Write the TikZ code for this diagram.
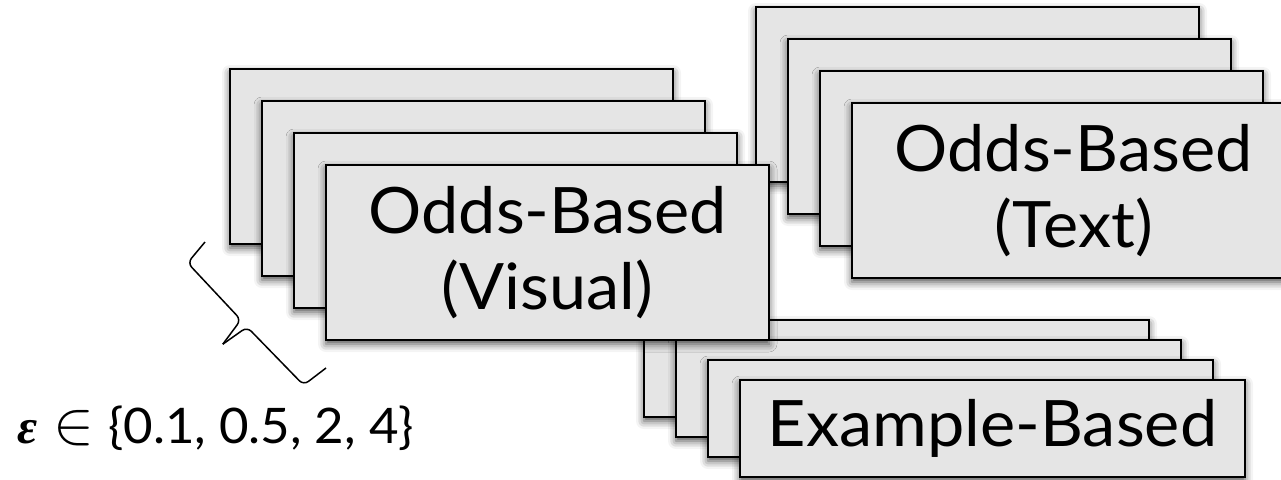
\RequirePackage{fix-cm}
\documentclass[tikz,border=0pt]{standalone}
\usepackage{fontspec}
\setmainfont{Lato}[FakeStretch=1.04]
\newfontfamily\epsfont{Liberation Serif}
\usetikzlibrary{shadows.blur}
\definecolor{boxfill}{HTML}{E5E5E5}
\tikzset{
  card/.style={draw=black, line width=2pt, fill=boxfill, anchor=north west, inner sep=0pt,
    blur shadow={shadow xshift=0pt, shadow yshift=-4pt, shadow blur radius=8pt, shadow opacity=70}},
  oddcard/.style={card, minimum width=443pt, minimum height=175pt, align=center,
    font=\fontsize{64}{76}\selectfont},
  excard/.style={card, minimum width=505pt, minimum height=97pt,
    font=\fontsize{64}{76}\selectfont},
  bracestyle/.style={draw=black, line width=1.5pt, rounded corners=6pt, line join=round},
  epslabel/.style={anchor=base west, inner sep=0pt, font=\fontsize{49}{58}\selectfont}
}
\begin{document}
\begin{tikzpicture}[x=1pt,y=-1pt]
\useasboundingbox (0,0) rectangle (1281,479);
\clip (0,0) rectangle (1281,479);
% Text stack
\node[oddcard] (t1) at (755,6) {};
\node[oddcard] (t2) at (787,38) {};
\node[oddcard] (t3) at (819,70) {};
\node[oddcard] (t4) at (851,102) {Odds-Based\\(Text)};
% Example stack
\node[excard] (e1) at (643,319) {};
\node[excard] (e2) at (675,339) {};
\node[excard] (e3) at (707,359) {};
\node[excard] (e4) at (739,379) {Example-Based};
% Visual stack
\node[oddcard] (v1) at (229,68) {};
\node[oddcard] (v2) at (261,100) {};
\node[oddcard] (v3) at (293,132) {};
\node[oddcard] (v4) at (325,164) {Odds-Based\\(Visual)};
% brace
\coordinate (bA) at (205,242);
\coordinate (bP1) at (187.6,262.9);
\coordinate (bP2) at (240.9,319.8);
\coordinate (bC) at (222.8,344.2);
\coordinate (bP3) at (247.1,327.0);
\coordinate (bP4) at (303.6,385.1);
\coordinate (bB) at (326,368);
\draw[bracestyle] (bA) -- (bP1) -- (bP2) -- (bC);
\draw[bracestyle] (bC) -- (bP3) -- (bP4) -- (bB);
\node[epslabel] (eps) at (17,443) {{\epsfont\bfseries\itshape ε}\hspace{16pt}\scalebox{1.25}{$\in$}\hspace{14pt}\{0.1, 0.5, 2, 4\}};
\end{tikzpicture}
\end{document}
